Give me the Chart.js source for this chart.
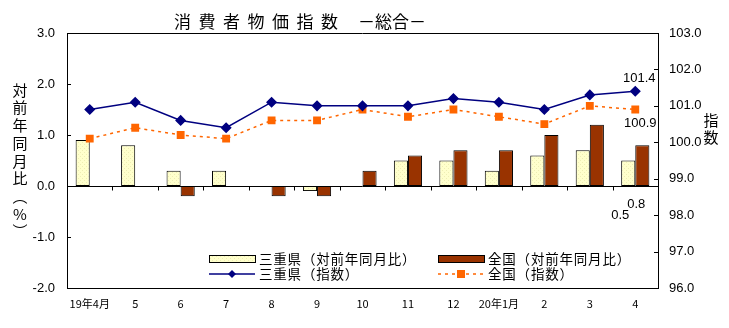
<!DOCTYPE html>
<html>
<head>
<meta charset="utf-8">
<script src="https://cdn.jsdelivr.net/npm/chart.js@4.4.1/dist/chart.umd.min.js"></script>
<style>
html, body { margin: 0; padding: 0; background: #fff; }
#wrap { width: 729px; height: 328px; position: relative; }
</style>
</head>
<body>
<div id="wrap"><canvas id="cpi"></canvas></div>
<script>
// 消費者物価指数（総合） 2019年4月〜2020年4月
const months = ["19年4月", "5", "6", "7", "8", "9", "10", "11", "12", "20年1月", "2", "3", "4"];
const mieYoY = [0.9, 0.8, 0.3, 0.3, 0.0, -0.1, 0.0, 0.5, 0.5, 0.3, 0.6, 0.7, 0.5];
const zenkokuYoY = [0.0, 0.0, -0.2, 0.0, -0.2, -0.2, 0.3, 0.6, 0.7, 0.7, 1.0, 1.2, 0.8];
const mieIndex = [100.9, 101.1, 100.6, 100.4, 101.1, 101.0, 101.0, 101.0, 101.2, 101.1, 100.9, 101.3, 101.4];
const zenkokuIndex = [100.1, 100.4, 100.2, 100.1, 100.6, 100.6, 100.9, 100.7, 100.9, 100.7, 100.5, 101.0, 100.9];
const leftTicks = [-2.0, -1.0, 0.0, 1.0, 2.0, 3.0];
const rightTicks = [96.0, 97.0, 98.0, 99.0, 100.0, 101.0, 102.0, 103.0];

const JP = '"Noto Sans CJK JP", sans-serif';
const NUM = '"Liberation Sans", Arial, sans-serif';

function dotPattern() {
    const c = document.createElement('canvas');
    c.width = 4; c.height = 4;
    const g = c.getContext('2d');
    g.fillStyle = '#FFFFCC';
    g.fillRect(0, 0, 4, 4);
    g.fillStyle = '#EEEEB4';
    g.fillRect(0, 0, 1, 1);
    g.fillRect(2, 2, 1, 1);
    return g.createPattern(c, 'repeat');
}
const yellowFill = dotPattern();

// frame, inward ticks, zero line, titles, legend, value labels
const decor = {
    id: 'decor',
    beforeDatasetsDraw(chart) {
        const { ctx, chartArea: a, scales: { y } } = chart;
        const y0 = Math.round(y.getPixelForValue(0)) + 0.5;
        ctx.save();
        ctx.strokeStyle = '#000';
        ctx.lineWidth = 1;
        ctx.beginPath();
        ctx.moveTo(a.left, y0); ctx.lineTo(a.right, y0);
        const w = (a.right - a.left) / months.length;
        for (let i = 1; i < months.length; i++) {
            const px = Math.round(a.left + w * i) + 0.5;
            ctx.moveTo(px, y0); ctx.lineTo(px, y0 + 4);
        }
        ctx.stroke();
        ctx.restore();
    },
    afterDraw(chart) {
        const { ctx, chartArea: a, scales: { y, y1 } } = chart;
        ctx.save();
        ctx.strokeStyle = '#000';
        ctx.lineWidth = 1;
        ctx.beginPath();
        ctx.moveTo(a.left, a.top + 0.5); ctx.lineTo(a.right, a.top + 0.5);
        leftTicks.forEach(v => {
            const py = Math.round(y.getPixelForValue(v)) + 0.5;
            ctx.moveTo(a.left, py); ctx.lineTo(a.left + 4, py);
        });
        rightTicks.forEach(v => {
            const py = Math.round(y1.getPixelForValue(v)) + 0.5;
            ctx.moveTo(a.right - 4, py); ctx.lineTo(a.right, py);
        });
        ctx.stroke();

        // title
        ctx.fillStyle = '#000';
        ctx.textBaseline = 'middle';
        ctx.textAlign = 'left';
        ctx.font = '17px ' + JP;
        ctx.letterSpacing = '7.5px';
        ctx.fillText('消費者物価指数', 174, 22);
        ctx.letterSpacing = '0px';
        ctx.fillText('－総合－', 358, 22);

        // axis titles (vertical)
        ctx.textAlign = 'center';
        ctx.font = '15px ' + JP;
        '対前年同月比︵%︶'.split('').forEach((ch, i) => ctx.fillText(ch, 20, 90 + i * 17.7));
        '指数'.split('').forEach((ch, i) => ctx.fillText(ch, 711, 120 + i * 17));

        // value labels for the latest month
        const last = months.length - 1;
        ctx.font = '13px ' + NUM;
        const mPt = chart.getDatasetMeta(2).data[last];
        const zPt = chart.getDatasetMeta(3).data[last];
        ctx.fillText(mieIndex[last].toFixed(1), mPt.x + 4, mPt.y - 13);
        ctx.fillText(zenkokuIndex[last].toFixed(1), zPt.x + 5, zPt.y + 14);
        const y0 = y.getPixelForValue(0);
        const zBar = chart.getDatasetMeta(1).data[last];
        const mBar = chart.getDatasetMeta(0).data[last];
        ctx.fillText(zenkokuYoY[last].toFixed(1), zBar.x - 6, y0 + 18);
        ctx.fillText(mieYoY[last].toFixed(1), mBar.x - 8, y0 + 29);

        // legend
        const ds = chart.data.datasets;
        ctx.textAlign = 'left';
        ctx.font = '13.5px ' + JP;
        ctx.letterSpacing = '0.8px';
        const cols = [209, 438];
        const rows = [259, 274];
        [0, 1].forEach(k => {
            const bx = cols[k];
            ctx.fillStyle = ds[k].backgroundColor;
            ctx.fillRect(bx, rows[0] - 4, 46, 8);
            ctx.strokeStyle = '#000';
            ctx.lineWidth = 1;
            ctx.strokeRect(bx + 0.5, rows[0] - 3.5, 46, 7);
            ctx.fillStyle = '#000';
            ctx.fillText(ds[k].label, bx + 50, rows[0]);
        });
        [2, 3].forEach((k, j) => {
            const bx = cols[j];
            const d = ds[k];
            ctx.strokeStyle = d.borderColor;
            ctx.lineWidth = d.borderWidth;
            ctx.setLineDash(d.borderDash || []);
            ctx.beginPath();
            ctx.moveTo(bx, rows[1]); ctx.lineTo(bx + 46, rows[1]);
            ctx.stroke();
            ctx.setLineDash([]);
            ctx.fillStyle = d.pointBackgroundColor;
            const cx = bx + 23, cy = rows[1];
            ctx.beginPath();
            if (d.pointStyle === 'rectRot') {
                ctx.moveTo(cx, cy - 4); ctx.lineTo(cx + 4, cy); ctx.lineTo(cx, cy + 4); ctx.lineTo(cx - 4, cy);
            } else {
                ctx.rect(cx - 4, cy - 4, 8, 8);
            }
            ctx.fill();
            ctx.fillStyle = '#000';
            ctx.fillText(d.label, bx + 50, rows[1]);
        });
        ctx.restore();
    }
};

new Chart(document.getElementById('cpi'), {
    type: 'bar',
    data: {
        labels: months,
        datasets: [{
            label: '三重県（対前年同月比）',
            data: mieYoY,
            yAxisID: 'y',
            backgroundColor: yellowFill,
            borderColor: '#000',
            borderWidth: 1,
            borderSkipped: false,
            categoryPercentage: 0.62,
            barPercentage: 1,
            order: 2
        }, {
            label: '全国（対前年同月比）',
            data: zenkokuYoY,
            yAxisID: 'y',
            backgroundColor: '#993300',
            borderColor: '#000',
            borderWidth: 1,
            borderSkipped: false,
            categoryPercentage: 0.62,
            barPercentage: 1,
            order: 2
        }, {
            type: 'line',
            label: '三重県（指数）',
            data: mieIndex,
            yAxisID: 'y1',
            borderColor: '#000080',
            borderWidth: 1.5,
            pointStyle: 'rectRot',
            pointRadius: 4.5,
            pointBackgroundColor: '#000080',
            pointBorderColor: '#000080',
            tension: 0,
            order: 0
        }, {
            type: 'line',
            label: '全国（指数）',
            data: zenkokuIndex,
            yAxisID: 'y1',
            borderColor: '#FF6600',
            borderWidth: 1.5,
            borderDash: [3, 4],
            pointStyle: 'rect',
            pointRadius: 4.5,
            pointBackgroundColor: '#FF6600',
            pointBorderColor: '#FF6600',
            tension: 0,
            order: 1
        }]
    },
    options: {
        responsive: true,
        maintainAspectRatio: false,
        animation: false,
        layout: { padding: { top: 33, left: 0, right: 0, bottom: 0 } },
        plugins: {
            legend: { display: false },
            tooltip: { enabled: false },
            title: { display: false }
        },
        scales: {
            x: {
                offset: true,
                grid: { display: false },
                border: { color: '#000', width: 1 },
                ticks: { color: '#000', font: { family: JP, size: 11 }, padding: 1, maxRotation: 0, autoSkip: false },
                afterFit: s => { s.height = 40; }
            },
            y: {
                position: 'left',
                min: leftTicks[0],
                max: leftTicks[leftTicks.length - 1],
                grid: { display: false },
                border: { color: '#000', width: 1 },
                ticks: { stepSize: 1, color: '#000', font: { family: NUM, size: 13 }, padding: 4, callback: v => v.toFixed(1) },
                afterFit: s => { s.width = 67; }
            },
            y1: {
                position: 'right',
                min: rightTicks[0],
                max: rightTicks[rightTicks.length - 1],
                grid: { display: false },
                border: { color: '#000', width: 1 },
                ticks: { stepSize: 1, color: '#000', font: { family: NUM, size: 13 }, padding: 3, callback: v => v.toFixed(1) },
                afterFit: s => { s.width = 71; }
            }
        }
    },
    plugins: [decor]
});
</script>
</body>
</html>
